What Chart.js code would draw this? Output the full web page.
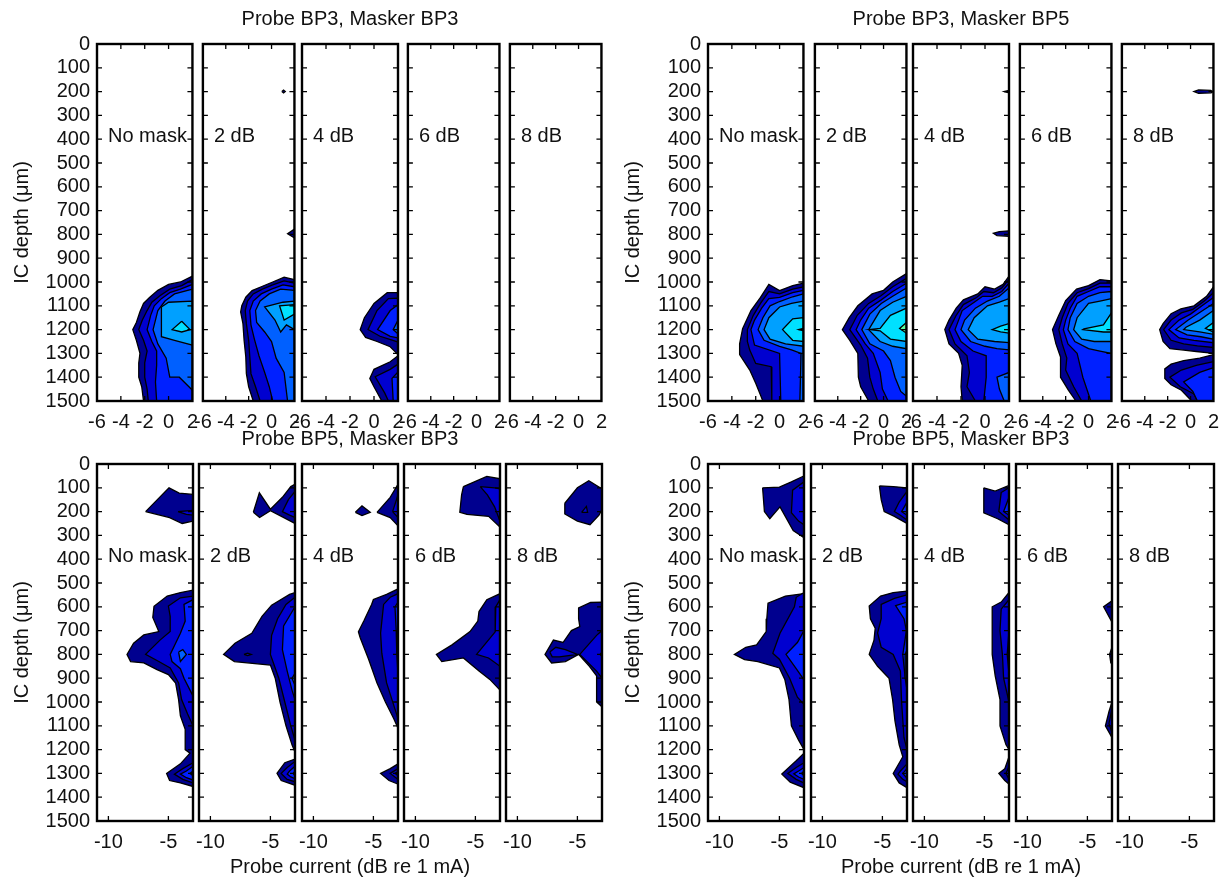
<!DOCTYPE html>
<html><head><meta charset="utf-8">
<script src="https://cdn.jsdelivr.net/npm/chart.js@4.4.1/dist/chart.umd.min.js"></script>
<style>
html,body{margin:0;padding:0;background:#fff;width:1230px;height:881px;overflow:hidden;position:relative}
canvas{position:absolute}
</style></head><body>
<script>
// ---------- tick labels / categories ----------
const topXTicks = [-6, -4, -2, 0, 2];
const botXTicks = [-10, -5];
const depthTicks = [0,100,200,300,400,500,600,700,800,900,1000,1100,1200,1300,1400,1500];
const panelLabels = ['No mask', '2 dB', '4 dB', '6 dB', '8 dB'];
const groupTitles = ['Probe BP3, Masker BP3', 'Probe BP3, Masker BP5', 'Probe BP5, Masker BP3', 'Probe BP5, Masker BP3'];
const xAxisTitle = 'Probe current (dB re 1 mA)';
const yAxisTitle = 'IC depth (\u03bcm)';
const levelColors = ['#00008F','#0000D0','#0020FF','#0060FF','#00A0FF','#00E0FF','#20FFDF','#60FF9F'];

// ---------- contour regions: [level, [[current dB, depth um], ...]] ----------
// Probe BP3, Masker BP3
const p33_0 = [
 [0, [[2,975],[1,1000],[0,1010],[-0.9,1035],[-1.6,1065],[-2.1,1090],[-2.4,1125],[-2.7,1170],[-3,1200],[-2.7,1245],[-2.4,1300],[-2.5,1340],[-2.5,1400],[-2.25,1440],[-2.1,1500],[2,1500]]],
 [1, [[2,990],[1.1,1015],[0.1,1030],[-0.7,1057],[-1.4,1085],[-1.8,1120],[-2.2,1160],[-2.5,1200],[-2.1,1245],[-1.8,1290],[-2,1340],[-2,1400],[-1.8,1450],[-1.7,1500],[2,1500]]],
 [2, [[2,1010],[1,1030],[0.1,1045],[-0.6,1070],[-1.2,1100],[-1.5,1140],[-1.8,1200],[-1.4,1250],[-1.0,1290],[-1.0,1350],[-1.1,1420],[-1.0,1500],[2,1500]]],
 [3, [[2,1030],[0.5,1050],[-0.3,1080],[-0.9,1120],[-1.3,1200],[-0.9,1260],[-0.2,1320],[0.1,1400],[0.9,1400],[2,1455]]],
 [4, [[2,1080],[0,1085],[-0.6,1105],[-0.6,1230],[0.5,1245],[2,1265]]],
 [5, [[1.1,1165],[0.3,1200],[1.1,1210],[1.8,1200]]]
];
const p33_2 = [
 [0, [[0.9,200],[1.05,194],[1.2,200],[1.05,206]]],
 [0, [[2,778],[1.4,797],[2,815]]],
 [0, [[2,990],[1.1,980],[0.1,1000],[-0.9,1020],[-1.7,1036],[-2.25,1064],[-2.6,1100],[-2.7,1126],[-2.5,1175],[-2.4,1245],[-2.25,1315],[-2.2,1385],[-2,1440],[-1.6,1500],[2,1500]]],
 [1, [[2,1005],[1.1,995],[0.1,1012],[-0.8,1030],[-1.6,1050],[-2.1,1080],[-2.3,1120],[-2.2,1175],[-2.0,1245],[-1.9,1315],[-1.8,1385],[-1.4,1440],[-1.0,1500],[2,1500]]],
 [2, [[2,1020],[1,1012],[0,1030],[-0.9,1050],[-1.6,1080],[-1.9,1120],[-1.8,1180],[-1.5,1240],[-1.1,1310],[-0.6,1380],[-0.2,1440],[0.1,1500],[2,1500]]],
 [3, [[2,1035],[0.8,1030],[-0.2,1050],[-1.0,1080],[-1.4,1120],[-1.3,1170],[-0.6,1210],[0,1250],[0.4,1320],[1.1,1380],[1.4,1500],[2,1500]]],
 [4, [[2,1080],[1,1085],[-0.6,1105],[0.3,1160],[0.8,1210],[1.3,1180],[2,1200]]],
 [5, [[2,1095],[0.7,1100],[1.1,1160],[2,1135]]]
];
const p33_4 = [
 [0, [[2,1045],[1.1,1045],[0,1090],[-0.8,1150],[-1.15,1200],[-0.7,1233],[0.25,1250],[1.35,1272],[2,1305]]],
 [1, [[2,1068],[1.2,1070],[0.25,1120],[-0.5,1200],[0.5,1228],[2,1252]]],
 [2, [[2,1095],[1.35,1120],[0.3,1200],[1.35,1228],[2,1235]]],
 [3, [[2,1160],[1.6,1200],[2,1218]]],
 [0, [[2,1310],[1.35,1335],[0,1367],[-0.35,1405],[0,1440],[0.65,1500],[2,1500]]],
 [1, [[2,1345],[1.35,1367],[0.1,1398],[0.9,1467],[1.2,1500],[2,1500]]],
 [2, [[2,1378],[1.5,1405],[1.6,1500],[2,1500]]]
];
const p33_6 = [];
const p33_8 = [];

// Probe BP3, Masker BP5
const p35_0 = [
 [0, [[2,1005],[1.1,1015],[0,1036],[-0.9,1010],[-1.6,1065],[-2.4,1120],[-3.1,1196],[-3.35,1260],[-3.35,1305],[-2.5,1370],[-2,1425],[-1.4,1500],[2,1500]]],
 [1, [[2,1020],[1.1,1030],[0,1050],[-0.9,1040],[-1.6,1090],[-2.2,1140],[-2.7,1200],[-2.7,1250],[-2.5,1286],[-2.0,1342],[-0.7,1356],[-0.65,1500],[2,1500]]],
 [2, [[2,1035],[1.1,1045],[0,1065],[-0.9,1070],[-1.5,1110],[-2.1,1160],[-2.4,1200],[-2.1,1265],[0,1300],[0.1,1500],[2,1500]]],
 [3, [[2,1050],[1.1,1062],[0,1082],[-0.8,1100],[-1.4,1150],[-1.8,1200],[-1.3,1245],[0,1270],[1,1285],[1.8,1300],[1.7,1500],[2,1500]]],
 [4, [[2,1080],[1,1090],[0,1105],[-0.9,1150],[-1.3,1200],[-0.8,1240],[0.5,1260],[2,1270]]],
 [5, [[2,1150],[1.1,1155],[0.25,1200],[1.1,1245],[2,1250]]],
 [6, [[2,1195],[1.6,1200],[2,1205]]]
];
const p35_2 = [
 [0, [[2,965],[0.8,1000],[0,1035],[-1,1050],[-2.25,1100],[-3.0,1150],[-3.6,1200],[-2.95,1245],[-2.25,1300],[-2.2,1400],[-2,1440],[-1.3,1500],[2,1500]]],
 [1, [[2,985],[0.8,1020],[-0.2,1057],[-1.3,1090],[-2.3,1140],[-2.95,1200],[-2.0,1265],[-1.4,1320],[-1.2,1400],[-0.9,1450],[-0.5,1500],[2,1500]]],
 [2, [[2,1005],[0.8,1040],[-0.2,1075],[-1.3,1110],[-2.0,1160],[-2.4,1200],[-1.6,1260],[-0.9,1300],[-0.3,1380],[-0.1,1450],[0.4,1500],[2,1500]]],
 [3, [[2,1025],[0.8,1060],[-0.2,1090],[-1.2,1135],[-1.9,1200],[-1.2,1260],[0,1290],[0.6,1330],[1.0,1400],[1.5,1460],[2,1480]]],
 [4, [[2,1060],[0.8,1085],[-0.3,1120],[-1.3,1200],[-0.3,1250],[0.8,1270],[2,1280]]],
 [5, [[2,1110],[0.6,1140],[-0.3,1195],[-1.2,1200],[-0.3,1205],[0.6,1240],[2,1250]]],
 [7, [[2,1170],[1.4,1195],[2,1215]]]
];
const p35_4 = [
 [0, [[2,195],[1.6,200],[2,205]]],
 [0, [[2,785],[1.2,788],[0.7,795],[1.0,805],[2,808]]],
 [0, [[2,975],[1.5,1010],[0.8,1030],[0,1020],[-0.6,1050],[-1.8,1075],[-2.4,1110],[-3,1160],[-3.35,1200],[-3,1260],[-2.2,1300],[-1.9,1350],[-2.0,1440],[-1.9,1500],[2,1500]]],
 [1, [[2,990],[1.4,1025],[0.7,1045],[-0.1,1040],[-0.7,1065],[-1.8,1095],[-2.4,1140],[-3,1200],[-2.5,1260],[-1.5,1310],[-1.3,1380],[-1.5,1440],[-0.8,1500],[2,1500]]],
 [2, [[2,1005],[1.4,1040],[0.6,1060],[-0.2,1060],[-0.9,1085],[-1.9,1120],[-2.5,1200],[-2,1250],[-1,1290],[0.1,1310],[0.1,1400],[-0.1,1500],[2,1500]]],
 [3, [[2,1025],[1.2,1060],[0.2,1080],[-0.8,1110],[-1.7,1160],[-2.0,1200],[-1.2,1250],[0,1270],[1,1280],[2,1285]]],
 [3, [[2,1380],[1.0,1400],[1.2,1450],[1.6,1500],[2,1500]]],
 [4, [[2,1070],[1.2,1085],[0.2,1100],[-0.9,1150],[-1.4,1200],[-0.6,1240],[0.8,1250],[2,1255]]],
 [5, [[2,1175],[1.3,1185],[0.6,1200],[1.3,1210],[2,1215]]]
];
const p35_6 = [
 [0, [[2,197],[1.8,200],[2,203]]],
 [0, [[2,995],[1,990],[0,1015],[-1.05,1030],[-2.0,1078],[-2.6,1140],[-3.15,1200],[-2.85,1260],[-2.45,1315],[-2.45,1400],[-1.75,1455],[-1.1,1500],[2,1500]]],
 [1, [[2,1005],[1,1005],[0,1028],[-1,1045],[-1.8,1090],[-2.3,1150],[-2.6,1200],[-2.3,1260],[-1.9,1320],[-2.0,1370],[-1.3,1440],[-0.6,1500],[2,1500]]],
 [2, [[2,1020],[1,1020],[0,1040],[-1,1060],[-1.6,1110],[-2.0,1160],[-2.2,1200],[-1.8,1260],[-1.0,1300],[-0.7,1360],[-0.5,1400],[0.2,1500],[2,1500]]],
 [3, [[2,1040],[1,1045],[0,1060],[-1,1090],[-1.6,1150],[-1.8,1200],[-1.2,1250],[0,1280],[1,1290],[2,1300]]],
 [4, [[2,1070],[1,1080],[0,1090],[-1,1150],[-1.3,1200],[-0.6,1240],[0.5,1250],[2,1250]]],
 [5, [[2,1130],[1.3,1180],[-0.4,1197],[-0.5,1200],[1.3,1210],[2,1210]]]
];
const p35_8 = [
 [0, [[1.8,195],[0.7,193],[0.3,200],[0.7,207],[1.8,205],[1.95,200]]],
 [0, [[2,1020],[1.4,1060],[0.3,1100],[-0.85,1113],[-1.7,1133],[-2.4,1175],[-2.7,1200],[-2.4,1250],[-1.8,1280],[-0.6,1286],[0.5,1292],[2,1300]]],
 [1, [[2,1045],[1.2,1080],[0.2,1115],[-0.8,1130],[-1.7,1160],[-2.35,1200],[-1.7,1245],[-0.6,1260],[0.6,1268],[2,1275]]],
 [2, [[2,1065],[1.0,1100],[0.0,1135],[-1.0,1160],[-1.9,1200],[-1.0,1235],[0.3,1245],[2,1255]]],
 [3, [[2,1090],[0.9,1125],[-0.2,1160],[-1.3,1200],[-0.3,1222],[0.9,1230],[2,1240]]],
 [4, [[2,1120],[0.8,1160],[-0.4,1190],[-0.6,1200],[0.8,1210],[2,1220]]],
 [5, [[2,1170],[1.3,1195],[2,1210]]],
 [0, [[2,1305],[0.8,1320],[-0.6,1330],[-1.7,1345],[-2.25,1365],[-2.25,1405],[-1.7,1432],[-0.8,1455],[0.1,1500],[2,1500]]],
 [1, [[2,1335],[0.5,1350],[-0.8,1370],[-1.8,1400],[-0.9,1440],[0.3,1470],[0.6,1500],[2,1500]]],
 [2, [[2,1360],[0.8,1380],[-0.6,1420],[0.2,1460],[0.6,1500],[2,1500]]]
];

// Probe BP5, Masker BP3 (left block)
const p53a_0 = [
 [0, [[-6.9,200],[-4.95,100],[-4.1,122],[-2.95,128],[-2.95,240],[-3.85,250],[-4.9,225]]],
 [1, [[-4.2,200],[-2.95,195],[-2.95,215],[-3.5,212]]],
 [0, [[-2.95,530],[-4.0,540],[-5.1,555],[-6.2,598],[-6.3,645],[-5.8,704],[-7.05,718],[-7.9,753],[-8.45,800],[-8.15,830],[-7.05,836],[-5.95,864],[-5.0,885],[-4.4,920],[-4.15,990],[-4.0,1058],[-3.6,1115],[-3.6,1200],[-3.2,1215],[-4.0,1260],[-5.15,1300],[-4.9,1330],[-4.0,1340],[-2.95,1355]]],
 [1, [[-2.95,555],[-4.0,562],[-5.0,597],[-4.85,640],[-4.85,704],[-5.7,740],[-6.9,800],[-5.8,830],[-4.85,857],[-4.15,920],[-3.9,990],[-3.4,1050],[-2.95,1100]]],
 [2, [[-2.95,570],[-3.7,590],[-3.6,660],[-4.0,711],[-4.4,753],[-4.85,800],[-4.7,830],[-4.0,860],[-3.7,900],[-3.2,950],[-2.95,975]]],
 [3, [[-4.15,790],[-3.8,780],[-3.5,800],[-4.0,830]]],
 [1, [[-2.95,1255],[-3.8,1280],[-4.5,1303],[-3.8,1325],[-2.95,1340]]],
 [2, [[-2.95,1270],[-3.5,1290],[-4.0,1303],[-3.5,1318],[-2.95,1328]]],
 [3, [[-2.95,1290],[-3.2,1300],[-2.95,1310]]]
];
const p53a_2 = [
 [0, [[-6.42,203],[-5.92,121],[-5.0,190],[-4.0,140],[-3.3,95],[-2.95,85],[-2.95,250],[-4.0,222],[-5.0,196],[-5.9,225]]],
 [1, [[-2.95,115],[-3.5,150],[-4.0,200],[-3.4,215],[-2.95,225]]],
 [0, [[-2.95,540],[-3.4,548],[-4.9,593],[-5.7,640],[-6.55,711],[-7.95,753],[-8.9,800],[-8.0,830],[-5.0,845],[-4.6,900],[-4.2,1000],[-3.7,1100],[-3.2,1180],[-2.95,1210]]],
 [0, [[-2.95,1240],[-3.8,1255],[-4.45,1300],[-4.1,1330],[-2.95,1350]]],
 [1, [[-2.95,560],[-3.7,590],[-4.4,650],[-4.9,720],[-5.0,800],[-4.3,900],[-3.8,1000],[-3.3,1100],[-2.95,1160]]],
 [1, [[-7.2,800],[-6.9,795],[-6.6,800],[-6.9,805]]],
 [2, [[-2.95,600],[-3.9,680],[-4.0,780],[-3.6,870],[-3.2,950],[-2.95,990]]],
 [3, [[-2.95,880],[-3.2,900],[-2.95,930]]],
 [1, [[-2.95,1250],[-3.6,1275],[-4.1,1300],[-3.6,1325],[-2.95,1335]]],
 [2, [[-2.95,1270],[-3.4,1290],[-3.6,1303],[-3.3,1315],[-2.95,1322]]],
 [3, [[-2.95,1290],[-3.1,1300],[-2.95,1310]]]
];
const p53a_4 = [
 [0, [[-6.5,203],[-5.95,176],[-5.26,203],[-5.95,217]]],
 [0, [[-4.7,203],[-3.6,140],[-2.95,85],[-2.95,260],[-3.6,225]]],
 [1, [[-3.4,200],[-2.95,130],[-2.95,225]]],
 [0, [[-2.95,525],[-3.9,548],[-5.0,569],[-5.15,590],[-5.8,660],[-6.25,705],[-6.1,730],[-5.4,820],[-4.7,920],[-4.0,1000],[-3.3,1070],[-2.95,1110]]],
 [1, [[-2.95,545],[-3.6,560],[-4.15,590],[-4.4,710],[-4.3,795],[-3.9,920],[-3.2,1030],[-2.95,1070]]],
 [2, [[-2.95,580],[-3.2,600],[-3.1,700],[-3.05,800],[-2.95,880]]],
 [0, [[-2.95,1260],[-3.6,1280],[-4.4,1300],[-3.7,1330],[-2.95,1345]]],
 [1, [[-2.95,1280],[-3.6,1300],[-2.95,1325]]],
 [2, [[-2.95,1292],[-3.2,1300],[-2.95,1310]]]
];
const p53a_6 = [
 [0, [[-6.0,95],[-4.05,52],[-2.95,62],[-2.95,265],[-3.9,220],[-5.7,212],[-6.3,203],[-6.15,130]]],
 [1, [[-4.6,95],[-3.4,100],[-2.95,105],[-2.95,240],[-3.4,180],[-4.0,130]]],
 [0, [[-2.95,545],[-4.05,570],[-4.7,620],[-4.8,660],[-5.45,704],[-6.95,760],[-8.25,800],[-7.8,830],[-6.0,815],[-4.7,870],[-3.8,905],[-2.95,950]]],
 [1, [[-2.95,570],[-3.3,600],[-3.35,705],[-4.9,800],[-3.9,815],[-2.95,850]]],
 [0, [[-2.95,1295],[-3.05,1300],[-2.95,1305]]]
];
const p53a_8 = [
 [0, [[-6.05,165],[-5.0,100],[-4.05,70],[-3.1,100],[-2.95,105],[-2.95,190],[-3.2,215],[-3.95,255],[-5.0,240],[-6.05,210]]],
 [1, [[-4.65,203],[-4.25,178],[-4.15,203]]],
 [0, [[-2.95,580],[-3.9,582],[-4.9,605],[-4.9,650],[-4.8,683],[-5.5,700],[-6.2,750],[-7.0,740],[-7.7,800],[-7.15,836],[-6.0,830],[-4.9,800],[-4.0,850],[-3.4,890],[-3.4,1000],[-2.95,1020]]],
 [1, [[-7.3,790],[-6.8,770],[-6.0,780],[-5.0,800],[-6.5,810],[-7.1,810]]],
 [1, [[-2.95,700],[-3.4,720],[-4.8,800],[-3.4,870],[-2.95,900]]],
 [2, [[-3.1,800],[-2.95,790],[-2.95,810]]]
];

// Probe BP5, Masker BP3 (right block)
const p53b_0 = [
 [0, [[-6.4,100],[-5.0,97],[-4.0,75],[-2.95,50],[-2.95,310],[-3.85,280],[-4.95,180],[-5.8,230],[-6.25,200]]],
 [1, [[-2.95,75],[-3.9,110],[-4.0,205],[-3.4,240],[-2.95,255]]],
 [0, [[-2.95,545],[-4.5,555],[-5.95,585],[-6.05,650],[-6.1,704],[-6.9,760],[-7.8,770],[-8.75,800],[-7.9,822],[-6.8,830],[-5.0,857],[-4.55,905],[-4.2,990],[-4.0,1100],[-3.4,1160],[-2.95,1200]]],
 [1, [[-2.95,540],[-3.6,560],[-3.75,600],[-4.95,711],[-5.55,795],[-5.0,820],[-4.15,900],[-3.5,980],[-2.95,1010]]],
 [2, [[-2.95,700],[-3.5,750],[-4.45,800],[-3.6,860],[-3.05,900],[-2.95,910]]],
 [0, [[-2.95,1215],[-3.6,1247],[-4.8,1303],[-4.1,1337],[-2.95,1360]]],
 [1, [[-2.95,1255],[-3.6,1275],[-4.3,1300],[-3.6,1325],[-2.95,1340]]],
 [2, [[-2.95,1275],[-3.4,1290],[-3.8,1302],[-3.4,1315],[-2.95,1325]]],
 [3, [[-2.95,1290],[-3.15,1300],[-2.95,1310]]]
];
const p53b_2 = [
 [0, [[-5.25,92],[-4.1,95],[-2.95,100],[-2.95,250],[-4.0,220],[-4.85,200],[-5.1,150]]],
 [1, [[-2.95,115],[-3.6,160],[-4.0,200],[-3.5,215],[-2.95,235]]],
 [2, [[-2.95,160],[-3.4,200],[-2.95,215]]],
 [0, [[-2.95,534],[-4.1,540],[-5.15,555],[-6.1,597],[-6.0,650],[-5.6,690],[-5.7,740],[-6.1,800],[-5.4,850],[-4.45,900],[-4.15,990],[-3.95,1080],[-3.6,1180],[-3.3,1230],[-4.1,1300],[-3.6,1340],[-2.95,1360]]],
 [1, [[-2.95,550],[-4.0,565],[-5.1,590],[-5.1,650],[-5.4,710],[-5.1,770],[-4.1,800],[-3.5,870],[-3.4,1000],[-3.2,1150],[-2.95,1200]]],
 [2, [[-2.95,580],[-3.9,595],[-3.2,650],[-3.0,700],[-3.3,800],[-3.1,900],[-2.95,950]]],
 [3, [[-2.95,780],[-3.1,800],[-3.1,900],[-2.95,920]]],
 [1, [[-2.95,1260],[-3.5,1290],[-3.7,1303],[-3.3,1325],[-2.95,1335]]],
 [2, [[-2.95,1280],[-3.3,1300],[-2.95,1320]]]
];
const p53b_4 = [
 [0, [[-5.05,100],[-4.1,114],[-2.95,90],[-2.95,255],[-3.9,230],[-5.05,205]]],
 [1, [[-2.95,100],[-3.6,120],[-3.8,200],[-3.2,225],[-2.95,235]]],
 [2, [[-2.95,140],[-3.4,200],[-2.95,215]]],
 [0, [[-2.95,540],[-3.6,580],[-4.35,600],[-4.35,800],[-4.1,890],[-3.7,990],[-3.7,1100],[-3.2,1180],[-2.95,1200]]],
 [1, [[-2.95,570],[-3.6,610],[-3.7,700],[-3.5,800],[-3.4,900],[-2.95,1000]]],
 [2, [[-2.95,700],[-3.1,800],[-2.95,880]]],
 [0, [[-2.95,1230],[-3.3,1280],[-3.8,1300],[-3.3,1330],[-2.95,1345]]],
 [1, [[-2.95,1270],[-3.2,1300],[-2.95,1325]]]
];
const p53b_6 = [
 [0, [[-2.95,575],[-3.65,600],[-3.0,660],[-2.95,660]]],
 [0, [[-2.95,770],[-3.15,800],[-3.05,835],[-2.95,835]]],
 [0, [[-2.95,1000],[-3.2,1040],[-3.5,1100],[-2.95,1150]]],
 [1, [[-2.95,1030],[-3.2,1090],[-2.95,1130]]]
];
const p53b_8 = [];

// ---------- layout ----------
const FONT = '"Liberation Sans", Arial, Helvetica, sans-serif';
const groups = [
  {lefts:[97,199,302,404,506], top:44, panels:[p33_0,p33_2,p33_4,p33_6,p33_8], title:groupTitles[0], xmin:-6, xmax:2, xticks:topXTicks, xtitle:false},
  {lefts:[708,811,913,1016,1118], top:44, panels:[p35_0,p35_2,p35_4,p35_6,p35_8], title:groupTitles[1], xmin:-6, xmax:2, xticks:topXTicks, xtitle:false},
  {lefts:[97,199,302,404,506], top:464, panels:[p53a_0,p53a_2,p53a_4,p53a_6,p53a_8], title:groupTitles[2], xmin:-10.95, xmax:-2.95, xticks:botXTicks, xtitle:true},
  {lefts:[708,811,913,1016,1118], top:464, panels:[p53b_0,p53b_2,p53b_4,p53b_6,p53b_8], title:groupTitles[3], xmin:-10.95, xmax:-2.95, xticks:botXTicks, xtitle:true}
];
const PW = 96, PH = 357;

const framePlugin = {
  id: 'frame',
  afterDatasetsDraw(chart, args, o) {
    const {ctx, chartArea: a} = chart;
    const xs = chart.scales.x, ys = chart.scales.y;
    ctx.save();
    ctx.strokeStyle = '#000';
    ctx.lineWidth = 1.3;
    ctx.beginPath();
    for (const v of o.xticks) {
      const px = xs.getPixelForValue(v);
      if (px > a.left + 2 && px < a.right - 2) {
        ctx.moveTo(px, a.bottom); ctx.lineTo(px, a.bottom - 5);
        ctx.moveTo(px, a.top); ctx.lineTo(px, a.top + 5);
      }
    }
    for (const v of depthTicks) {
      const py = ys.getPixelForValue(v);
      if (py > a.top + 2 && py < a.bottom - 2) {
        ctx.moveTo(a.left, py); ctx.lineTo(a.left + 5, py);
        ctx.moveTo(a.right, py); ctx.lineTo(a.right - 5, py);
      }
    }
    ctx.stroke();
    ctx.lineWidth = 2.4;
    ctx.strokeRect(a.left, a.top, a.right - a.left, a.bottom - a.top);
    ctx.fillStyle = '#111';
    ctx.font = '20px ' + FONT;
    ctx.textBaseline = 'middle';
    ctx.textAlign = 'left';
    ctx.fillText(o.label, a.left + 11, ys.getPixelForValue(388));
    ctx.textAlign = 'center';
    const cx = (a.left + a.right) / 2;
    if (o.title) ctx.fillText(o.title, cx, a.top - 25);
    if (o.xtitle) ctx.fillText(o.xtitle, cx, a.bottom + 46);
    ctx.restore();
  }
};

function makeChart(g, p) {
  const first = p === 0, mid = p === 2;
  const padL = first ? 97 : (mid ? 140 : 14), padR = mid ? 140 : 14, padT = 44, XH = 70;
  const cv = document.createElement('canvas');
  const W = padL + PW + padR, H = padT + PH + XH;
  cv.width = W; cv.height = H;
  cv.style.width = W + 'px'; cv.style.height = H + 'px';
  cv.style.left = (g.lefts[p] - padL) + 'px';
  cv.style.top = (g.top - padT) + 'px';
  document.body.appendChild(cv);
  const datasets = g.panels[p].map(([lv, pts]) => ({
    data: pts.concat([pts[0]]).map(([x, y]) => ({x, y})),
    showLine: true, fill: 'shape', tension: 0,
    backgroundColor: levelColors[lv], borderColor: '#000', borderWidth: 1.3,
    pointRadius: 0, order: -lv
  }));
  const tickFont = {family: FONT, size: 20};
  new Chart(cv, {
    type: 'scatter',
    data: {datasets},
    plugins: [framePlugin],
    options: {
      responsive: false, animation: false, devicePixelRatio: 1, events: [],
      layout: {autoPadding: false, padding: {left: first ? 0 : padL, right: padR, top: padT, bottom: 0}},
      plugins: {
        legend: {display: false}, tooltip: {enabled: false},
        frame: {label: panelLabels[p], title: mid ? g.title : null, xtitle: (mid && g.xtitle) ? xAxisTitle : null, xticks: g.xticks}
      },
      scales: {
        x: {
          type: 'linear', position: 'bottom', min: g.xmin, max: g.xmax,
          grid: {display: false, drawTicks: false}, border: {display: false},
          afterBuildTicks: s => { s.ticks = g.xticks.map(v => ({value: v})); },
          afterFit: s => { s.height = XH; },
          ticks: {font: tickFont, color: '#111', padding: 9, maxRotation: 0, autoSkip: false, callback: v => String(v)}
        },
        y: {
          type: 'linear', reverse: true, min: 0, max: 1500, display: first,
          grid: {display: false, drawTicks: false}, border: {display: false},
          afterBuildTicks: s => { s.ticks = depthTicks.map(v => ({value: v})); },
          afterFit: s => { if (first) s.width = padL; },
          ticks: {font: tickFont, color: '#111', padding: 7, autoSkip: false, callback: v => String(v)},
          title: {display: true, text: yAxisTitle, font: tickFont, color: '#111', padding: {top: 10, bottom: 0}}
        }
      }
    }
  });
}

groups.forEach(g => { for (let p = 0; p < 5; p++) makeChart(g, p); });
</script>
</body></html>
